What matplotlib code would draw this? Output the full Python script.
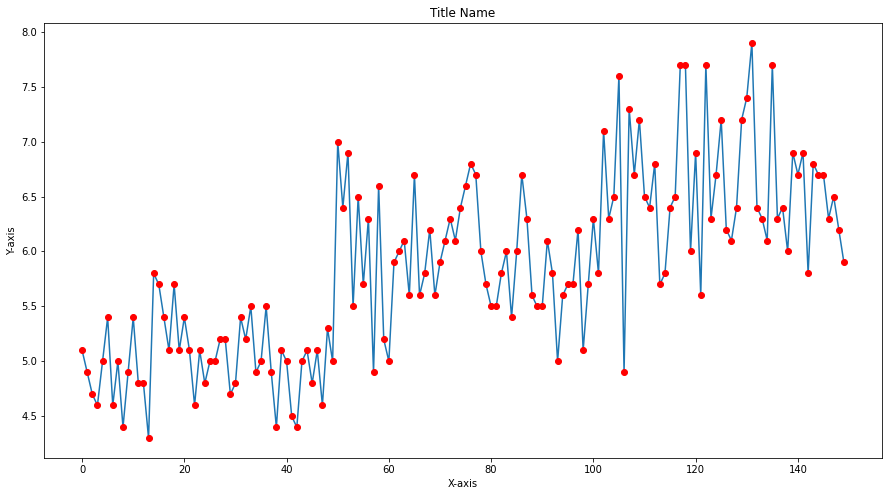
import numpy as np
import matplotlib.pyplot as plt

# %% data (sepal length values)
y_values = [5.1, 4.9, 4.7, 4.6, 5.0, 5.4, 4.6, 5.0, 4.4, 4.9, 5.4, 4.8, 4.8, 4.3, 5.8, 5.7, 5.4, 5.1, 5.7, 5.1,
            5.4, 5.1, 4.6, 5.1, 4.8, 5.0, 5.0, 5.2, 5.2, 4.7, 4.8, 5.4, 5.2, 5.5, 4.9, 5.0, 5.5, 4.9, 4.4, 5.1,
            5.0, 4.5, 4.4, 5.0, 5.1, 4.8, 5.1, 4.6, 5.3, 5.0,
            7.0, 6.4, 6.9, 5.5, 6.5, 5.7, 6.3, 4.9, 6.6, 5.2, 5.0, 5.9, 6.0, 6.1, 5.6, 6.7, 5.6, 5.8, 6.2, 5.6,
            5.9, 6.1, 6.3, 6.1, 6.4, 6.6, 6.8, 6.7, 6.0, 5.7, 5.5, 5.5, 5.8, 6.0, 5.4, 6.0, 6.7, 6.3, 5.6, 5.5,
            5.5, 6.1, 5.8, 5.0, 5.6, 5.7, 5.7, 6.2, 5.1, 5.7,
            6.3, 5.8, 7.1, 6.3, 6.5, 7.6, 4.9, 7.3, 6.7, 7.2, 6.5, 6.4, 6.8, 5.7, 5.8, 6.4, 6.5, 7.7, 7.7, 6.0,
            6.9, 5.6, 7.7, 6.3, 6.7, 7.2, 6.2, 6.1, 6.4, 7.2, 7.4, 7.9, 6.4, 6.3, 6.1, 7.7, 6.3, 6.4, 6.0, 6.9,
            6.7, 6.9, 5.8, 6.8, 6.7, 6.7, 6.3, 6.5, 6.2, 5.9]
x_values = np.arange(len(y_values))

# %% plot
fig = plt.figure(figsize=(888 / 72, 496 / 72), dpi=72)
ax = fig.add_axes([44 / 888, 1 - 458 / 496, (882 - 44) / 888, (458 - 23) / 496])
ax.plot(x_values, y_values)
ax.plot(x_values, y_values, 'ro')
ax.set_title('Title Name')
ax.set_xlabel('X-axis')
ax.set_ylabel('Y-axis')
plt.savefig('out.png', dpi=72)
